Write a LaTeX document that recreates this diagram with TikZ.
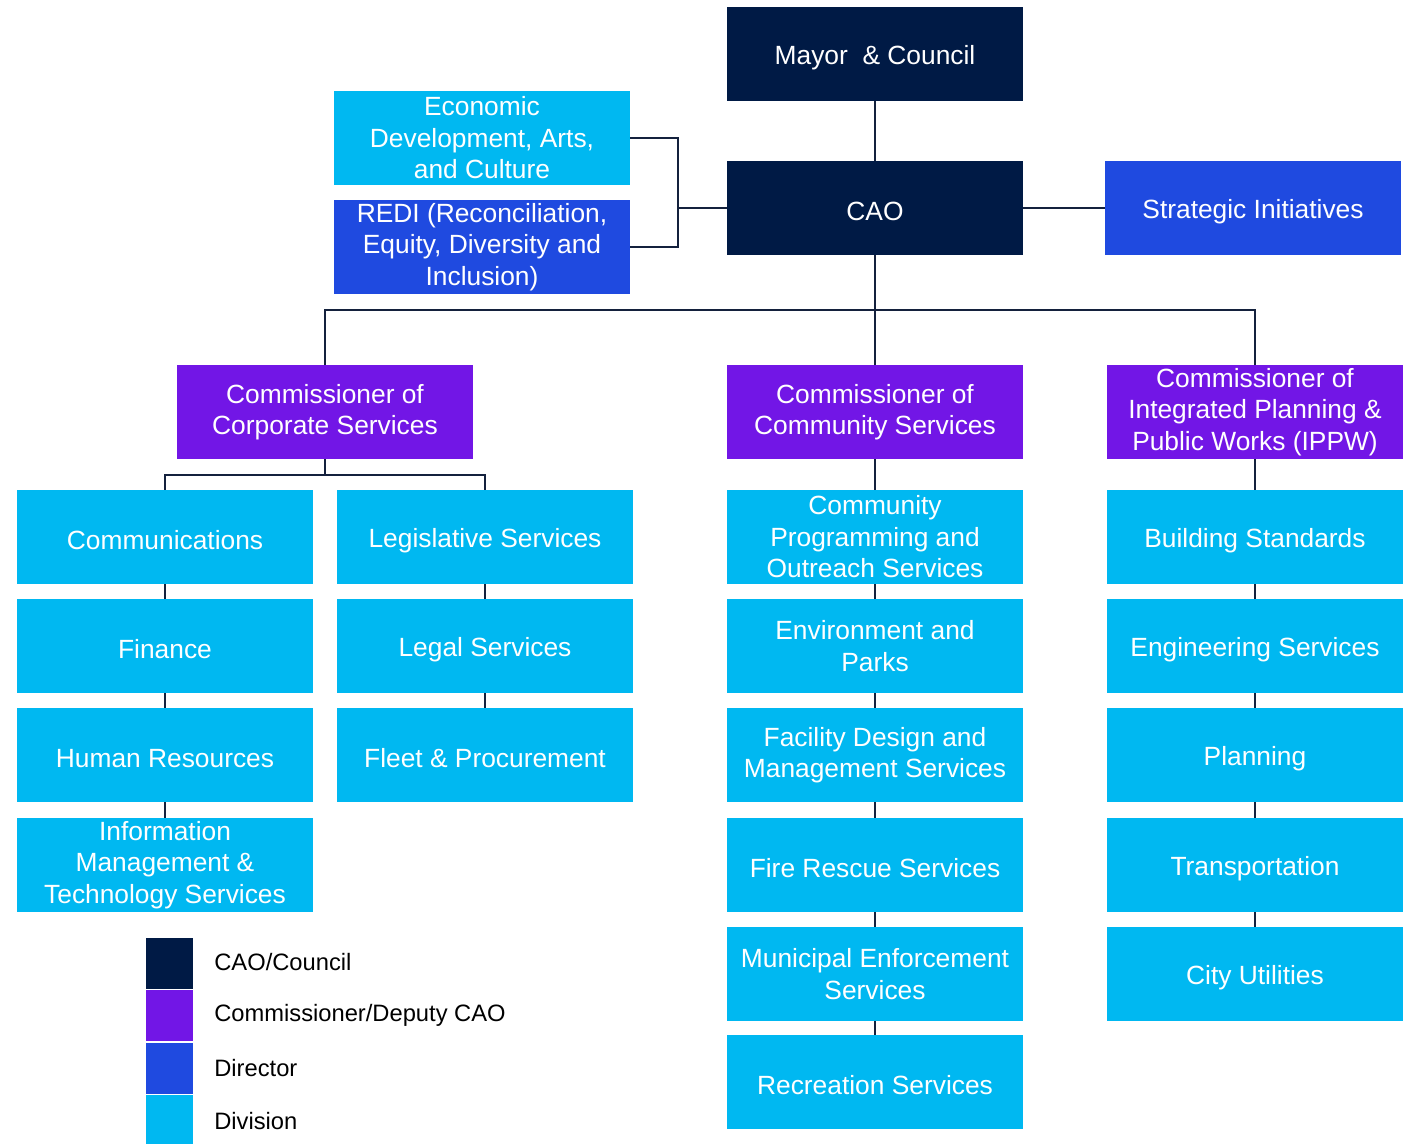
\documentclass[tikz,border=0pt]{standalone}
\usepackage{fontspec}
\setmainfont{Liberation Sans}
\usepackage{tikz}
\usetikzlibrary{positioning}

\definecolor{councilnavy}{HTML}{001A45}
\definecolor{commishpurple}{HTML}{7216E6}
\definecolor{directorblue}{HTML}{1F4AE0}
\definecolor{divisioncyan}{HTML}{00B8F1}
\definecolor{linknavy}{HTML}{14213D}

% keeps box labels level whatever letters they hold
\newcommand{\boxstrut}{\rule[-0.4pt]{0pt}{15pt}}

\begin{document}
\begin{tikzpicture}[
        x=0.02cm, y=-0.02cm,
        box/.style={rectangle, minimum width=5.92cm, minimum height=1.88cm,
            inner sep=0pt, align=center, text=white,
            font=\fontsize{15}{18}\selectfont,
            execute at begin node=\boxstrut, execute at end node=\boxstrut},
        council/.style={box, fill=councilnavy},
        commish/.style={box, fill=commishpurple},
        director/.style={box, fill=directorblue},
        division/.style={box, fill=divisioncyan},
        link/.style={draw=linknavy, line width=1.4pt},
        key/.style={rectangle, minimum width=0.94cm, minimum height=1.02cm, inner sep=0pt},
        keytext/.style={anchor=west, inner sep=0pt, font=\fontsize{13.5}{16}\selectfont}
    ]
        \useasboundingbox (0,0) rectangle (1412,1143);

        % top of the tree
        \path
            (875,54)   node[council]  (mayor) {Mayor~ \& Council}
            (875,208)  node[council]  (cao)   {CAO}
            (1253,208) node[director] (strat) {Strategic Initiatives}
            (482,138)  node[division] (econ)  {Economic\\Development, Arts,\\and Culture}
            (482,247)  node[director] (redi)  {REDI (Reconciliation,\\Equity, Diversity and\\Inclusion)};

        % commissioners
        \path
            (325,412)  node[commish] (corp) {Commissioner of\\Corporate Services}
            (875,412)  node[commish] (comm) {Commissioner of\\Community Services}
            (1255,412) node[commish] (ippw) {Commissioner of\\Integrated Planning \&\\Public Works (IPPW)};

        % corporate services divisions
        \path
            (165,537) node[division] (comms)  {Communications}
            (165,646) node[division] (fin)    {Finance}
            (165,755) node[division] (hr)     {Human Resources}
            (165,865) node[division] (imts)   {Information\\Management \&\\Technology Services}
            (485,537) node[division] (legis)  {Legislative Services}
            (485,646) node[division] (legal)  {Legal Services}
            (485,755) node[division] (fleet)  {Fleet \& Procurement};

        % community services divisions
        \path
            (875,537)  node[division] (cpos)  {Community\\Programming and\\Outreach Services}
            (875,646)  node[division] (envp)  {Environment and\\Parks}
            (875,755)  node[division] (fdms)  {Facility Design and\\Management Services}
            (875,865)  node[division] (fire)  {Fire Rescue Services}
            (875,974)  node[division] (mes)   {Municipal Enforcement\\Services}
            (875,1082) node[division] (rec)   {Recreation Services};

        % IPPW divisions
        \path
            (1255,537) node[division] (bldg)  {Building Standards}
            (1255,646) node[division] (eng)   {Engineering Services}
            (1255,755) node[division] (plan)  {Planning}
            (1255,865) node[division] (trans) {Transportation}
            (1255,974) node[division] (util)  {City Utilities};

        % elbow points
        \coordinate (side) at (678,208);
        \coordinate (bus)  at (875,310);
        \coordinate (cbus) at (325,475);

        % connectors
        \draw[link] (mayor) -- (cao);
        \draw[link] (cao) -- (strat);
        \draw[link] (econ) -| (side);
        \draw[link] (redi) -| (side);
        \draw[link] (side) -- (cao);
        \draw[link] (cao) -- (comm);
        \draw[link] (bus) -| (corp);
        \draw[link] (bus) -| (ippw);
        \draw[link] (corp) -- (cbus);
        \draw[link] (cbus) -| (comms);
        \draw[link] (cbus) -| (legis);
        \draw[link] (comms) -- (fin);
        \draw[link] (fin) -- (hr);
        \draw[link] (hr) -- (imts);
        \draw[link] (legis) -- (legal);
        \draw[link] (legal) -- (fleet);
        \draw[link] (comm) -- (cpos);
        \draw[link] (cpos) -- (envp);
        \draw[link] (envp) -- (fdms);
        \draw[link] (fdms) -- (fire);
        \draw[link] (fire) -- (mes);
        \draw[link] (mes) -- (rec);
        \draw[link] (ippw) -- (bldg);
        \draw[link] (bldg) -- (eng);
        \draw[link] (eng) -- (plan);
        \draw[link] (plan) -- (trans);
        \draw[link] (trans) -- (util);

        % legend
        \path
            (169.5,963)  node[key, fill=councilnavy]   (k1) {}
            (169.5,1015) node[key, fill=commishpurple] (k2) {}
            (169.5,1068) node[key, fill=directorblue]  (k3) {}
            (169.5,1120) node[key, fill=divisioncyan]  (k4) {};
        \node[keytext] (t1) at (214,962)  {CAO/Council};
        \node[keytext] (t2) at (214,1015) {Commissioner/Deputy CAO};
        \node[keytext] (t3) at (214,1068) {Director};
        \node[keytext] (t4) at (214,1121) {Division};
    \end{tikzpicture}
\end{document}
